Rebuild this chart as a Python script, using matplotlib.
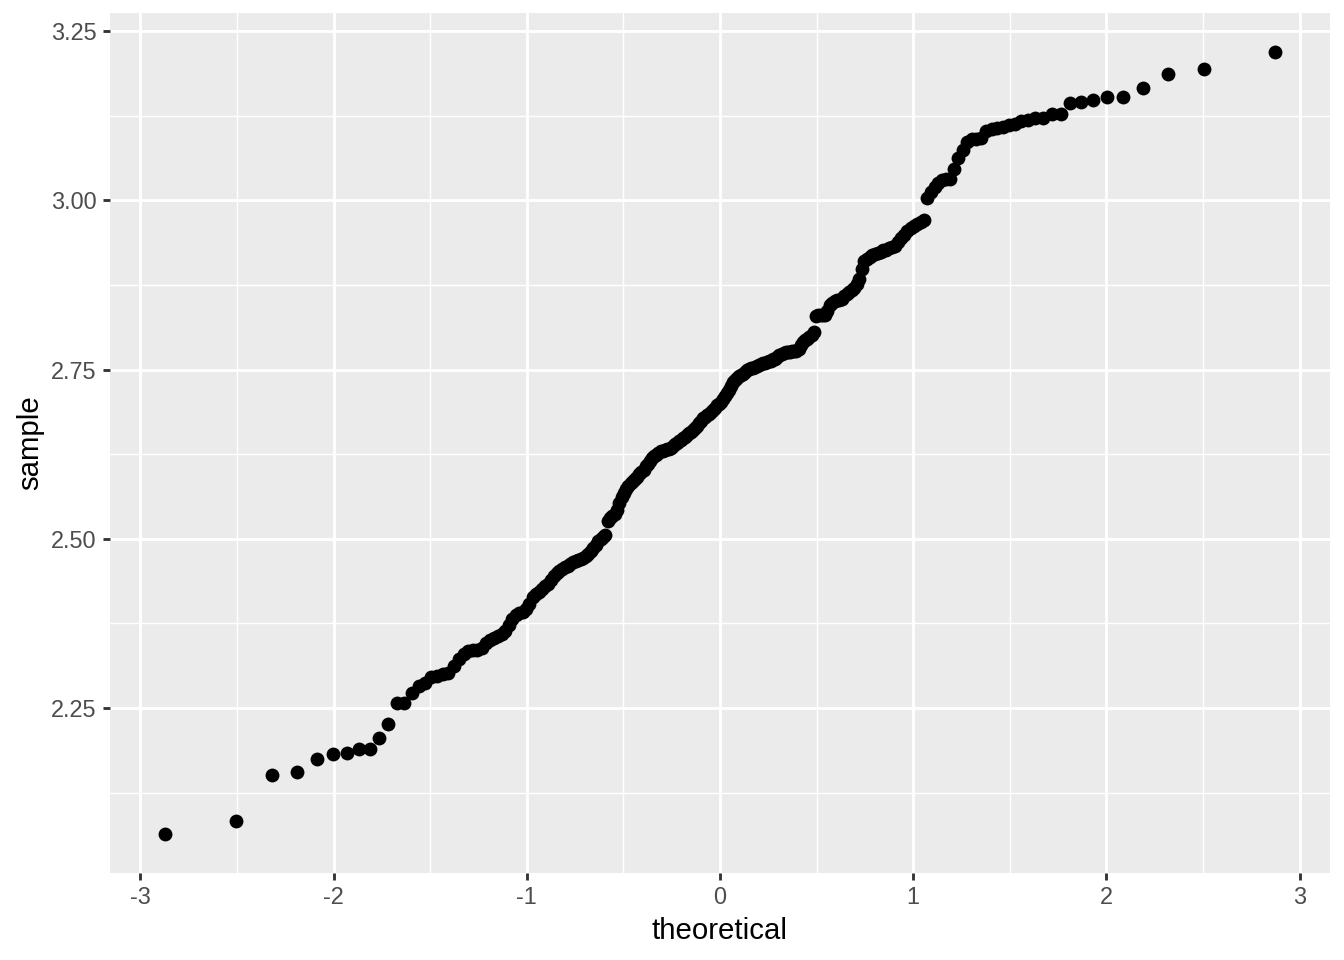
"""Normal QQ plot of a sample, drawn in the ggplot2 grey theme."""

from statistics import NormalDist

import matplotlib
matplotlib.use("Agg")
import matplotlib.pyplot as plt  # noqa: E402
from matplotlib.ticker import FixedLocator  # noqa: E402

# sorted sample values
sample = [
    2.064, 2.083, 2.151, 2.156, 2.174, 2.182, 2.184, 2.189, 2.190, 2.205,
    2.227, 2.258, 2.258, 2.272, 2.282, 2.287, 2.296, 2.298, 2.300, 2.302,
    2.312, 2.322, 2.330, 2.334, 2.335, 2.336, 2.338, 2.346, 2.351, 2.353,
    2.356, 2.359, 2.364, 2.373, 2.382, 2.387, 2.390, 2.392, 2.396, 2.404,
    2.414, 2.419, 2.422, 2.426, 2.430, 2.433, 2.439, 2.445, 2.450, 2.453,
    2.456, 2.458, 2.460, 2.463, 2.466, 2.467, 2.469, 2.470, 2.471, 2.474,
    2.478, 2.482, 2.487, 2.491, 2.496, 2.499, 2.502, 2.505, 2.527, 2.530,
    2.533, 2.537, 2.543, 2.553, 2.561, 2.568, 2.574, 2.578, 2.583, 2.586,
    2.589, 2.592, 2.595, 2.598, 2.602, 2.607, 2.611, 2.615, 2.619, 2.622,
    2.624, 2.627, 2.629, 2.630, 2.631, 2.632, 2.633, 2.634, 2.637, 2.640,
    2.642, 2.644, 2.646, 2.649, 2.651, 2.653, 2.656, 2.658, 2.661, 2.663,
    2.667, 2.671, 2.674, 2.678, 2.680, 2.683, 2.685, 2.687, 2.690, 2.693,
    2.697, 2.699, 2.702, 2.706, 2.711, 2.715, 2.720, 2.726, 2.731, 2.734,
    2.737, 2.740, 2.742, 2.744, 2.747, 2.750, 2.751, 2.752, 2.753, 2.754,
    2.755, 2.757, 2.758, 2.759, 2.760, 2.761, 2.762, 2.763, 2.765, 2.766,
    2.769, 2.771, 2.773, 2.775, 2.776, 2.776, 2.776, 2.777, 2.777, 2.777,
    2.780, 2.786, 2.790, 2.793, 2.795, 2.798, 2.801, 2.805, 2.829, 2.830,
    2.830, 2.831, 2.831, 2.837, 2.846, 2.849, 2.851, 2.852, 2.853, 2.854,
    2.858, 2.862, 2.865, 2.868, 2.871, 2.876, 2.884, 2.899, 2.910, 2.913,
    2.916, 2.919, 2.921, 2.922, 2.924, 2.926, 2.927, 2.929, 2.931, 2.933,
    2.939, 2.944, 2.949, 2.955, 2.959, 2.962, 2.965, 2.968, 2.971, 3.004,
    3.013, 3.020, 3.025, 3.030, 3.031, 3.032, 3.046, 3.062, 3.075, 3.086,
    3.090, 3.091, 3.092, 3.103, 3.105, 3.107, 3.108, 3.111, 3.113, 3.117,
    3.119, 3.121, 3.121, 3.127, 3.128, 3.144, 3.145, 3.148, 3.152, 3.152,
    3.166, 3.186, 3.194, 3.219,
]

x_major = [-3, -2, -1, 0, 1, 2, 3]
x_minor = [-2.5, -1.5, -0.5, 0.5, 1.5, 2.5]
y_major = [2.25, 2.50, 2.75, 3.00, 3.25]
y_minor = [2.125, 2.375, 2.625, 2.875, 3.125]

# theoretical quantiles as stat_qq computes them (ppoints, a = 0.5)
n = len(sample)
theoretical = [NormalDist().inv_cdf((i + 0.5) / n) for i in range(n)]

plt.rcParams["font.family"] = ["Liberation Sans", "DejaVu Sans"]
plt.rcParams["axes.unicode_minus"] = False

PANEL = "#EBEBEB"
LW_MAJOR = 1.07
LW_MINOR = 0.53


def padded(vals, frac=0.05):
    lo, hi = min(vals), max(vals)
    pad = (hi - lo) * frac
    return lo - pad, hi + pad


fig = plt.figure(figsize=(7, 5), dpi=192)
ax = fig.add_axes([0.0818, 0.0906, 0.9078, 0.8959])
ax.set_facecolor(PANEL)
for s in ax.spines.values():
    s.set_visible(False)

ax.scatter(theoretical, sample, s=27, color="black", linewidths=0, zorder=3)

ax.set_xlim(*padded(theoretical))
ax.set_ylim(*padded(sample))

ax.xaxis.set_major_locator(FixedLocator(x_major))
ax.xaxis.set_minor_locator(FixedLocator(x_minor))
ax.yaxis.set_major_locator(FixedLocator(y_major))
ax.yaxis.set_minor_locator(FixedLocator(y_minor))
ax.set_xticklabels([str(v) for v in x_major])
ax.set_yticklabels([f"{v:.2f}" for v in y_major])

ax.grid(which="major", color="white", lw=LW_MAJOR, zorder=1)
ax.grid(which="minor", color="white", lw=LW_MINOR, zorder=1)
ax.set_axisbelow(True)

ax.tick_params(which="major", length=2.75, width=LW_MAJOR, color="#333333",
               labelcolor="#4D4D4D", labelsize=8.8, pad=2.2)
ax.tick_params(which="minor", length=0)

ax.set_xlabel("theoretical", fontsize=11, color="black", labelpad=2.75)
ax.set_ylabel("sample", fontsize=11, color="black", labelpad=2.75)

fig.savefig("out.png", dpi=192, facecolor="white")
